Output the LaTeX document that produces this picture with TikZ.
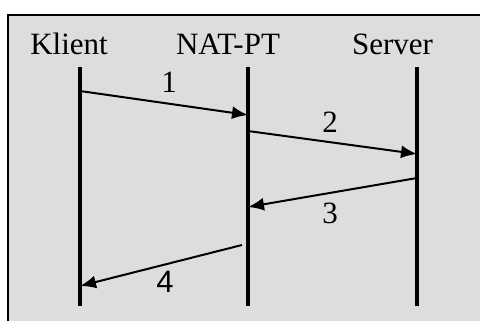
\documentclass[tikz,border=0pt]{standalone}
\usepackage{fontspec}
\setmainfont{Liberation Serif}
\newfontfamily\digitsans{Liberation Sans}
\usetikzlibrary{arrows.meta}
\begin{document}
\begin{tikzpicture}[x=1pt,y=-1pt,
  lifeline/.style={line width=3.2pt},
  msg/.style={line width=2pt,-{Latex[length=16pt,width=13pt]}},
  title/.style={anchor=base,inner sep=0pt,font=\fontsize{31}{36}\selectfont},
  num/.style={anchor=base,inner sep=0pt,font=\fontsize{31}{36}\selectfont}]
\useasboundingbox (0,0) rectangle (480,321);
% grey panel with top and left rule
\fill[fill={rgb,255:red,221;green,221;blue,221}] (8,15) rectangle (482,323);
\draw[line width=2.5pt] (8,323) -- (8,15) -- (482,15);
% participants
\node[title] (klient) at (69,55) {Klient};
\node[title] (nat) at (228,55) {NAT-PT};
\node[title] (server) at (392.5,55) {Server};
% lifelines
\coordinate (kt) at (80,67);  \coordinate (kb) at (80,306);
\coordinate (nt) at (248,67); \coordinate (nb) at (248,306);
\coordinate (st) at (417,67); \coordinate (sb) at (417,306);
\draw[lifeline] (kt) -- (kb);
\draw[lifeline] (nt) -- (nb);
\draw[lifeline] (st) -- (sb);
% message end points
\coordinate (m1a) at (80,91);   \coordinate (m1b) at (248,115);
\coordinate (m2a) at (248,131); \coordinate (m2b) at (417,154);
\coordinate (m3a) at (417,178); \coordinate (m3b) at (248,207);
\coordinate (m4a) at (242,245); \coordinate (m4b) at (80,286);
\draw[msg] (m1a) -- (m1b);
\draw[msg] (m2a) -- (m2b);
\draw[msg] (m3a) -- (m3b);
\draw[msg] (m4a) -- (m4b);
% message numbers
\node[num] (n1) at (169,93) {1};
\node[num] (n2) at (330,133) {2};
\node[num] (n3) at (330,223) {3};
\node[num,font=\digitsans\fontsize{31}{36}\selectfont] (n4) at (165,292) {4};
\end{tikzpicture}
\end{document}
